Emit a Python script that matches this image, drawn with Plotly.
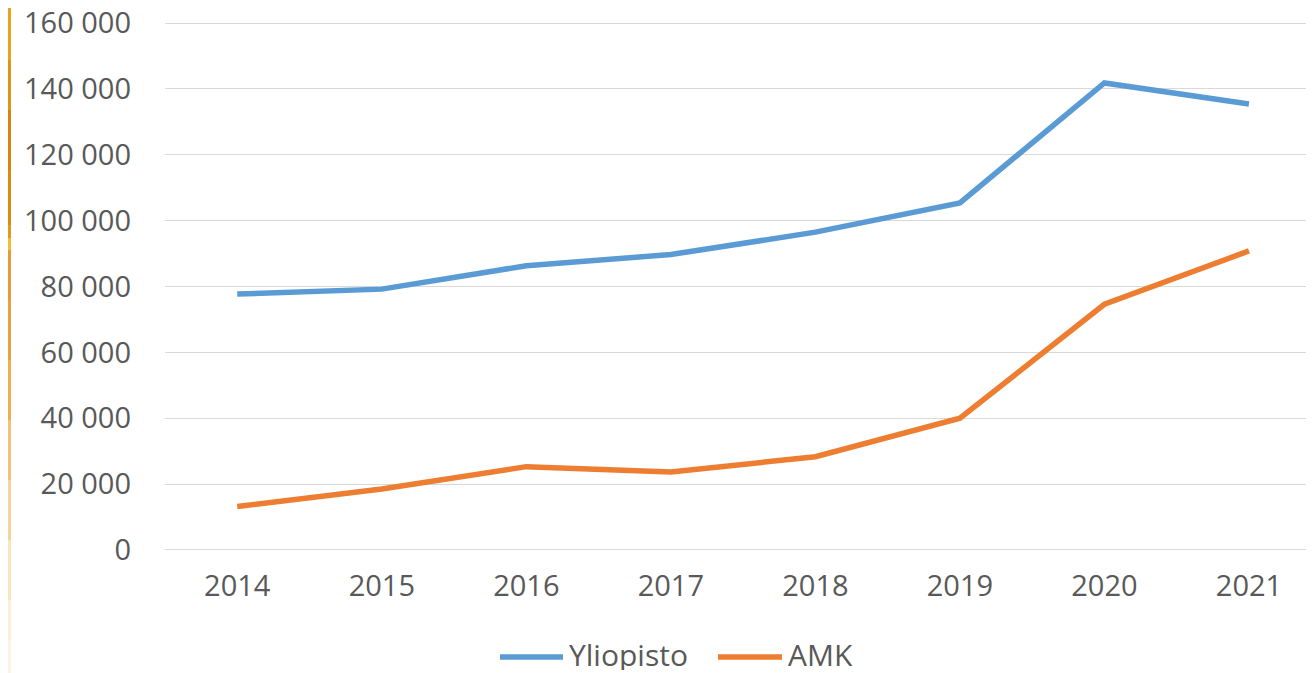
import plotly.graph_objects as go

years = [2014, 2015, 2016, 2017, 2018, 2019, 2020, 2021]
yliopisto = [77700, 79200, 86300, 89700, 96500, 105400, 141800, 135400]
amk = [13200, 18500, 25300, 23700, 28300, 40000, 74600, 90800]
y_ticks = [0, 20000, 40000, 60000, 80000, 100000, 120000, 140000, 160000]
y_tick_text = ["0", "20 000", "40 000", "60 000", "80 000", "100 000", "120 000", "140 000", "160 000"]
series_names = ["Yliopisto", "AMK"]
series_colors = ["#5B9BD5", "#ED7D31"]

FONT = "Open Sans, DejaVu Sans, sans-serif"
TXT = "#595959"
OFF = 8  # page body margin of the browser
WIDTH, HEIGHT = 1314 - OFF, 673 - OFF
L, R, T, B = 165 - OFF, 0, 20 - OFF, 128 - OFF
W = WIDTH - L - R
H = HEIGHT - T - B


def px_x(px):
    # window pixel -> paper coordinate
    return (px - OFF - L) / W


def px_y(py):
    return (HEIGHT - B - (py - OFF)) / H


fig = go.Figure()
for name, vals, col in zip(series_names, [yliopisto, amk], series_colors):
    fig.add_trace(go.Scatter(x=years, y=vals, mode="lines", name=name,
                             line=dict(color=col, width=5.5), showlegend=False))

# decorative orange strip at the left edge (slide background), visible part only
strip = [(0, "#E9A41C"), (60, "#E29416"), (110, "#D9840F"), (170, "#DB8A12"),
         (225, "#E29A1E"), (238, "#F0BE32"), (250, "#E99A3A"), (300, "#E9A23C"),
         (360, "#ECB04E"), (420, "#F1C27A"), (480, "#F4D49A"), (540, "#F8E6BE"),
         (600, "#FBEFDA"), (640, "#FCF2E6"), (673, None)]
for (y0, col), (y1, _) in zip(strip[:-1], strip[1:]):
    fig.add_shape(type="rect", xref="paper", yref="paper",
                  x0=px_x(OFF), x1=px_x(11), y0=px_y(max(y1, OFF)), y1=px_y(max(y0, OFF)),
                  fillcolor=col, line_width=0, layer="below")

# legend drawn manually to match the long swatches
legend_items = [(500, 563, 567), (718, 782, 786)]
for (lx0, lx1, tx), name, col in zip(legend_items, series_names, series_colors):
    fig.add_shape(type="line", xref="paper", yref="paper",
                  x0=px_x(lx0), x1=px_x(lx1), y0=px_y(657), y1=px_y(657),
                  line=dict(color=col, width=5.5))
    fig.add_annotation(xref="paper", yref="paper", x=px_x(tx), y=px_y(654),
                       text=name, showarrow=False, xanchor="left", yanchor="middle",
                       height=32, valign="middle",
                       font=dict(family=FONT, size=30, color=TXT))

fig.update_layout(
    width=WIDTH, height=HEIGHT,
    margin=dict(l=L, r=R, t=T, b=B),
    paper_bgcolor="white", plot_bgcolor="white",
    font=dict(family=FONT, color=TXT, size=29),
    showlegend=False,
    xaxis=dict(range=[2013.5, 2021.45], tickmode="array", tickvals=years,
               ticktext=[str(y) for y in years], showgrid=False, zeroline=False,
               showline=False, ticks="", tickfont=dict(size=29, color=TXT),
               ticklabelstandoff=13, automargin=False),
    yaxis=dict(range=[-925, 160925], tickmode="array", tickvals=y_ticks, ticktext=y_tick_text,
               showgrid=True, gridcolor="#D9D9D9", gridwidth=1.3, zeroline=False,
               showline=False, ticks="", tickfont=dict(size=29, color=TXT),
               ticklabelstandoff=33, automargin=False, ticklabeloverflow="allow"),
)

fig.write_html("out.html")
